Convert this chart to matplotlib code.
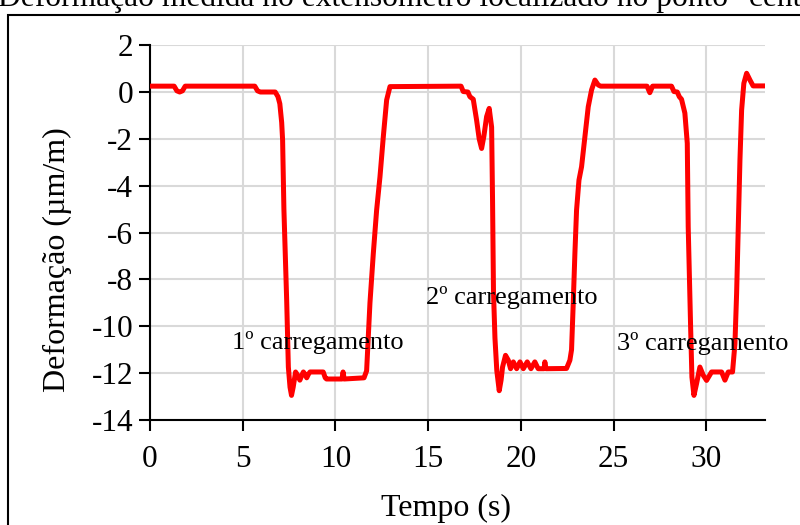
import matplotlib
matplotlib.use('Agg')
import matplotlib.pyplot as plt
from matplotlib.patches import Rectangle

plt.rcParams['font.family'] = ['Liberation Serif', 'DejaVu Serif']
plt.rcParams['axes.unicode_minus'] = False

# time (s) and strain (um/m)
tempo = [0, 1.3, 1.45, 1.6, 1.75, 1.9, 5.65, 5.8, 5.95, 6.75, 6.9, 7.0, 7.1, 7.15,
         7.22, 7.37, 7.46, 7.55, 7.63, 7.72, 7.85, 7.97, 8.08, 8.18, 8.27, 8.36,
         8.45, 8.54, 8.63, 9.34, 9.45, 9.52, 10.35, 10.41, 10.47, 11.54, 11.68,
         11.86, 12.04, 12.22, 12.4, 12.58, 12.76, 12.94,
         16.77, 16.89, 17.14, 17.25, 17.43, 17.61, 17.75, 17.88, 18.0, 18.15,
         18.29, 18.42, 18.47, 18.52, 18.6, 18.7, 18.83, 18.93, 19.01, 19.17,
         19.32, 19.44, 19.59, 19.77, 19.95, 20.13, 20.34, 20.54, 20.75, 20.93,
         21.25, 21.29, 21.35, 22.46, 22.64, 22.73, 22.82, 22.91, 23.0, 23.13,
         23.27, 23.45, 23.63, 23.81, 23.99, 24.17, 24.3,
         26.8, 26.95, 27.1, 28.12, 28.25, 28.43, 28.54, 28.66, 28.84, 28.97,
         29.02, 29.15, 29.22, 29.33, 29.47, 29.65, 29.83, 30.01, 30.28, 30.82,
         31.0, 31.18, 31.41, 31.54, 31.63, 31.72, 31.81, 31.9, 32.02, 32.17,
         32.35, 32.52, 33.2]
deformacao = [0.25, 0.25, 0.05, 0.0, 0.05, 0.25, 0.25, 0.05, 0.0, 0.0, -0.2, -0.5, -1.3, -2.05,
              -5.0, -8.9, -11.74, -12.6, -12.95, -12.6, -11.95, -12.1, -12.3, -12.1, -11.95, -12.05,
              -12.2, -12.05, -11.95, -11.95, -12.2, -12.25, -12.25, -11.95, -12.25, -12.2, -11.9,
              -9.0, -6.9, -5.04, -3.62, -1.91, -0.34, 0.23,
              0.25, 0.02, 0.0, -0.2, -0.31, -1.2, -2.0, -2.41, -1.9, -1.05,
              -0.7, -1.5, -4.6, -8.5, -10.5, -11.9, -12.75, -12.3, -11.74, -11.24,
              -11.45, -11.81, -11.52, -11.81, -11.52, -11.81, -11.52, -11.81, -11.52, -11.81,
              -11.81, -11.52, -11.81, -11.8, -11.45, -11.0, -9.03, -6.9, -5.04, -3.76,
              -3.19, -1.91, -0.63, 0.09, 0.51, 0.3, 0.25,
              0.25, -0.03, 0.25, 0.25, 0.02, 0.0, -0.2, -0.31, -0.9, -2.19,
              -5.75, -10.03, -12.17, -12.95, -12.45, -11.74, -12.09, -12.31, -11.95, -11.95,
              -12.3, -11.95, -11.95, -10.74, -8.6, -5.75, -2.9, -0.77, 0.37, 0.8,
              0.51, 0.26, 0.26]

rotulos = ['1º carregamento', '2º carregamento', '3º carregamento']
rot_x = [4.42, 14.88, 25.18]
rot_y = [-10.68, -8.76, -10.73]

fig = plt.figure(figsize=(8, 5.25), dpi=100)
ax = fig.add_axes([0.1875, 0.2, 0.956 - 0.1875, 0.914 - 0.2])

ax.plot(tempo, deformacao, color='#ff0000', lw=3.6, solid_joinstyle='round', zorder=3)

for txt, x, y in zip(rotulos, rot_x, rot_y):
    ax.text(x, y, txt, ha='left', va='center', fontsize=19, zorder=4)

ax.set_xlim(0, 33.15)
ax.set_ylim(-14, 2)
ax.set_xticks(range(0, 35, 5))
ax.set_yticks(range(-14, 3, 2))
ax.grid(True, color='#d9d9d9', lw=1.5)
ax.set_axisbelow(True)
for s in ['top', 'right']:
    ax.spines[s].set_visible(False)
for s in ['left', 'bottom']:
    ax.spines[s].set_linewidth(1.5)
ax.tick_params(direction='out', length=8, width=1.5, labelsize=22.5)
ax.tick_params(axis='x', pad=10)
ax.tick_params(axis='y', pad=4)

ax.set_xlabel('Tempo (s)', fontsize=23, va='center')
ax.set_ylabel('Deformação (µm/m)', fontsize=23, va='center')
ax.xaxis.set_label_coords(0.481, -0.235)
ax.yaxis.set_label_coords(-0.15, 0.427)

# title, cut off at the top of the picture
fig.text(-0.003, 1 - 6 / 525, 'Deformação medida no extensômetro localizado no ponto "central"',
         fontsize=22.7, ha='left', va='baseline')

# frame around the chart area
fig.patches.append(Rectangle((8 / 800, -0.1), 1.1, (525 - 15) / 525 + 0.1,
                             transform=fig.transFigure, fill=False, lw=1.5,
                             edgecolor='black'))

fig.savefig('out.png', dpi=100)
